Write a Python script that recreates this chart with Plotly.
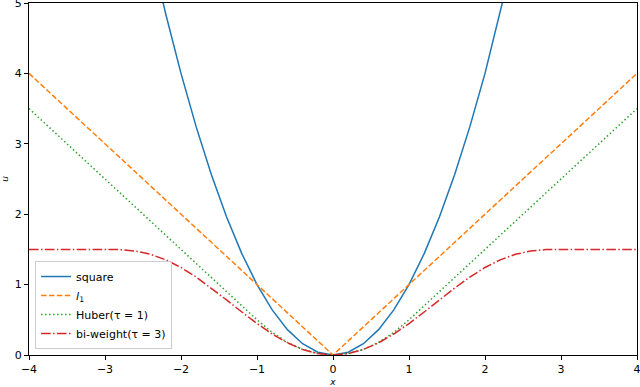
import plotly.graph_objects as go

# sample positions read along the x axis
x_vals = [-4.0, -3.8, -3.6, -3.4, -3.2, -3.0, -2.8, -2.6, -2.4, -2.2, -2.0,
          -1.8, -1.6, -1.4, -1.2, -1.0, -0.8, -0.6, -0.4, -0.2, 0.0,
          0.2, 0.4, 0.6, 0.8, 1.0, 1.2, 1.4, 1.6, 1.8, 2.0,
          2.2, 2.4, 2.6, 2.8, 3.0, 3.2, 3.4, 3.6, 3.8, 4.0]

square_vals = [16.0, 14.44, 12.96, 11.56, 10.24, 9.0, 7.84, 6.76, 5.76, 4.84, 4.0,
               3.24, 2.56, 1.96, 1.44, 1.0, 0.64, 0.36, 0.16, 0.04, 0.0,
               0.04, 0.16, 0.36, 0.64, 1.0, 1.44, 1.96, 2.56, 3.24, 4.0,
               4.84, 5.76, 6.76, 7.84, 9.0, 10.24, 11.56, 12.96, 14.44, 16.0]

l1_vals = [4.0, 3.8, 3.6, 3.4, 3.2, 3.0, 2.8, 2.6, 2.4, 2.2, 2.0,
           1.8, 1.6, 1.4, 1.2, 1.0, 0.8, 0.6, 0.4, 0.2, 0.0,
           0.2, 0.4, 0.6, 0.8, 1.0, 1.2, 1.4, 1.6, 1.8, 2.0,
           2.2, 2.4, 2.6, 2.8, 3.0, 3.2, 3.4, 3.6, 3.8, 4.0]

huber_vals = [3.5, 3.3, 3.1, 2.9, 2.7, 2.5, 2.3, 2.1, 1.9, 1.7, 1.5,
              1.3, 1.1, 0.9, 0.7, 0.5, 0.32, 0.18, 0.08, 0.02, 0.0,
              0.02, 0.08, 0.18, 0.32, 0.5, 0.7, 0.9, 1.1, 1.3, 1.5,
              1.7, 1.9, 2.1, 2.3, 2.5, 2.7, 2.9, 3.1, 3.3, 3.5]

biweight_vals = [1.5, 1.5, 1.5, 1.5, 1.5, 1.5, 1.497, 1.477, 1.43, 1.352, 1.243,
                 1.107, 0.95, 0.782, 0.611, 0.447, 0.298, 0.173, 0.079, 0.02, 0.0,
                 0.02, 0.079, 0.173, 0.298, 0.447, 0.611, 0.782, 0.95, 1.107, 1.243,
                 1.352, 1.43, 1.477, 1.497, 1.5, 1.5, 1.5, 1.5, 1.5, 1.5]

x_ticks = [-4, -3, -2, -1, 0, 1, 2, 3, 4]
y_ticks = [0, 1, 2, 3, 4, 5]

fig = go.Figure()

fig.add_trace(go.Scatter(
    x=x_vals, y=square_vals, mode='lines', name='square',
    line=dict(color='#1f77b4', width=1.5),
))
fig.add_trace(go.Scatter(
    x=x_vals, y=l1_vals, mode='lines', name='<i>l</i><sub>1</sub>',
    line=dict(color='#ff7f0e', width=1.5, dash='5.5px,2.4px'),
))
fig.add_trace(go.Scatter(
    x=x_vals, y=huber_vals, mode='lines', name='Huber(τ = 1)',
    line=dict(color='#2ca02c', width=1.5, dash='1.5px,2.5px'),
))
fig.add_trace(go.Scatter(
    x=x_vals, y=biweight_vals, mode='lines', name='bi-weight(τ = 3)',
    line=dict(color='#d62728', width=1.5, dash='9.6px,2.4px,1.5px,2.4px'),
))

axis_style = dict(
    showgrid=False, zeroline=False, automargin=False,
    showline=True, linecolor='black', linewidth=1, mirror=True,
    ticks='outside', ticklen=4, tickcolor='black', tickwidth=1,
    ticklabeloverflow='allow',
    tickfont=dict(family='DejaVu Sans', size=11, color='black'),
)

fig.update_xaxes(
    range=[-4, 4], tickvals=x_ticks,
    ticktext=[str(t).replace('-', '−') for t in x_ticks],
    title=dict(text='<i>x</i>', font=dict(family='DejaVu Sans', size=9, color='black'), standoff=4),
    **axis_style,
)
fig.update_yaxes(
    range=[0, 5], tickvals=y_ticks,
    title=dict(text='<i>u</i>', font=dict(family='DejaVu Sans', size=9, color='black'), standoff=6),
    **axis_style,
)

fig.update_layout(
    width=640, height=387,
    margin=dict(l=29, r=3, t=3, b=32),
    plot_bgcolor='white', paper_bgcolor='white',
    font=dict(family='DejaVu Sans', size=11, color='black'),
    showlegend=True,
    legend=dict(
        x=0.01, y=0.017, xanchor='left', yanchor='bottom',
        bgcolor='rgba(255,255,255,0.8)', bordercolor='#cccccc', borderwidth=1,
        font=dict(family='DejaVu Sans', size=11, color='black'),
        tracegroupgap=0, itemwidth=30,
    ),
)

# the page's default body margin would shift the figure by 8px
fig.write_html(
    "out.html",
    config={'displayModeBar': False},
    post_script="document.body.style.margin='0';",
)
